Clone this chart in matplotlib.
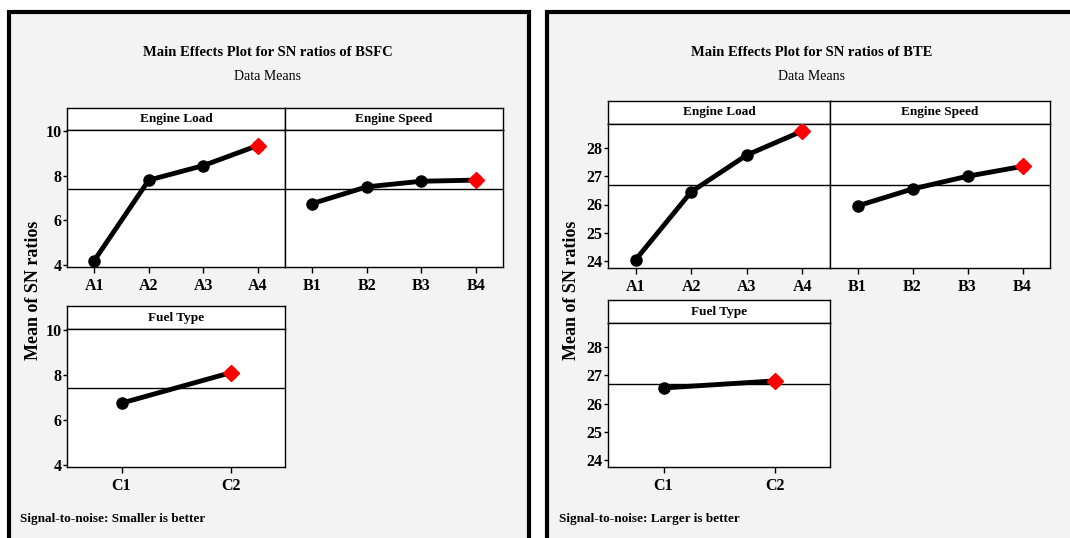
import matplotlib
matplotlib.use("Agg")
import matplotlib.pyplot as plt
from matplotlib.patches import Rectangle

# ---- data ----
bsfc_load_levels = ["A1", "A2", "A3", "A4"]
bsfc_load_vals = [4.2, 7.8, 8.45, 9.35]
bsfc_speed_levels = ["B1", "B2", "B3", "B4"]
bsfc_speed_vals = [6.75, 7.5, 7.75, 7.8]
bsfc_fuel_levels = ["C1", "C2"]
bsfc_fuel_vals = [6.75, 8.1]
bsfc_mean = 7.42
bsfc_yticks = [4, 6, 8, 10]

bte_load_levels = ["A1", "A2", "A3", "A4"]
bte_load_vals = [24.05, 26.45, 27.75, 28.6]
bte_speed_levels = ["B1", "B2", "B3", "B4"]
bte_speed_vals = [25.95, 26.55, 27.0, 27.35]
bte_fuel_levels = ["C1", "C2"]
bte_fuel_vals = [26.55, 26.8]
bte_mean = 26.68
bte_yticks = [24, 25, 26, 27, 28]

W, H = 1070, 538
fig = plt.figure(figsize=(W / 100, H / 100), dpi=100)
fig.patch.set_facecolor("white")
FONT = "Liberation Serif"
BG = "#f3f3f3"


def fx(x):
    return x / W


def fy(y):
    return 1 - y / H


def add_ax(x0, y0, x1, y1):
    ax = fig.add_axes([fx(x0), fy(y1), fx(x1) - fx(x0), fy(y0) - fy(y1)])
    ax.set_zorder(2)
    return ax


def frame(x0, y0, x1, y1):
    fig.patches.append(Rectangle((fx(x0), fy(y1)), fx(x1) - fx(x0), fy(y0) - fy(y1),
                                 transform=fig.transFigure, facecolor=BG,
                                 edgecolor="black", lw=3, zorder=-5))


def header(x0, y0, x1, y1, text):
    ax = add_ax(x0, y0, x1, y1)
    ax.set_xticks([])
    ax.set_yticks([])
    ax.set_facecolor("white")
    for s in ax.spines.values():
        s.set_linewidth(1.0)
    ax.text(0.5, 0.5, text, ha="center", va="center", family=FONT,
            fontweight="bold", fontsize=9.5, transform=ax.transAxes)


def panel(x0, y0, x1, y1, levels, vals, mean, ylim, yticks, show_y):
    ax = add_ax(x0, y0, x1, y1)
    ax.set_facecolor("white")
    xs = list(range(len(levels)))
    ax.plot(xs, vals, color="black", lw=3.5, marker="o", ms=8, zorder=3)
    ax.plot(xs[-1:], vals[-1:], color="red", marker="D", ms=8, ls="none", zorder=4)
    ax.axhline(mean, color="black", lw=1.0, zorder=2)
    ax.set_xlim(-0.5, len(levels) - 0.5)
    ax.set_ylim(*ylim)
    ax.set_xticks(xs)
    ax.set_xticklabels(levels, family=FONT, fontweight="bold", fontsize=11.5)
    ax.tick_params(axis="x", length=4, width=1, pad=4)
    if show_y:
        ax.set_yticks(yticks)
        ax.set_yticklabels([str(t) for t in yticks], family=FONT, fontweight="bold", fontsize=11.5)
        ax.tick_params(axis="y", length=3, width=1, pad=1)
    else:
        ax.set_yticks([])
    for s in ax.spines.values():
        s.set_linewidth(1.0)
    return ax


# ---------------- left (BSFC) ----------------
frame(9, 12, 529, 545)
fig.text(fx(268), fy(52), "Main Effects Plot for SN ratios of BSFC", ha="center", va="center",
         family=FONT, fontweight="bold", fontsize=10.5)
fig.text(fx(268), fy(76), "Data Means", ha="center", va="center", family=FONT, fontsize=10)
fig.text(fx(33), fy(290), "Mean of SN ratios", ha="center", va="center", rotation=90,
         family=FONT, fontweight="bold", fontsize=13)
fig.text(fx(20), fy(519), "Signal-to-noise: Smaller is better", ha="left", va="center",
         family=FONT, fontweight="bold", fontsize=9.5)

bylim = (4 - 2 / 22.33, 10 + 1 / 22.33)
header(67, 108, 285, 130, "Engine Load")
header(285, 108, 503, 130, "Engine Speed")
panel(67, 130, 285, 267, bsfc_load_levels, bsfc_load_vals, bsfc_mean, bylim, bsfc_yticks, True)
panel(285, 130, 503, 267, bsfc_speed_levels, bsfc_speed_vals, bsfc_mean, bylim, bsfc_yticks, False)
header(67, 306, 285, 329, "Fuel Type")
panel(67, 329, 285, 467, bsfc_fuel_levels, bsfc_fuel_vals, bsfc_mean, bylim, bsfc_yticks, True)

# ---------------- right (BTE) ----------------
frame(547, 12, 1080, 545)
fig.text(fx(812), fy(52), "Main Effects Plot for SN ratios of BTE", ha="center", va="center",
         family=FONT, fontweight="bold", fontsize=10.5)
fig.text(fx(812), fy(76), "Data Means", ha="center", va="center", family=FONT, fontsize=10)
fig.text(fx(571), fy(290), "Mean of SN ratios", ha="center", va="center", rotation=90,
         family=FONT, fontweight="bold", fontsize=13)
fig.text(fx(559), fy(519), "Signal-to-noise: Larger is better", ha="left", va="center",
         family=FONT, fontweight="bold", fontsize=9.5)

rylim = (24 - 7 / 28.25, 28 + 24 / 28.25)
header(608, 101, 830, 124, "Engine Load")
header(830, 101, 1050, 124, "Engine Speed")
panel(608, 124, 830, 268, bte_load_levels, bte_load_vals, bte_mean, rylim, bte_yticks, True)
panel(830, 124, 1050, 268, bte_speed_levels, bte_speed_vals, bte_mean, rylim, bte_yticks, False)
header(608, 300, 830, 323, "Fuel Type")
panel(608, 323, 830, 467, bte_fuel_levels, bte_fuel_vals, bte_mean, rylim, bte_yticks, True)

fig.savefig("out.png", dpi=100, facecolor="white")
